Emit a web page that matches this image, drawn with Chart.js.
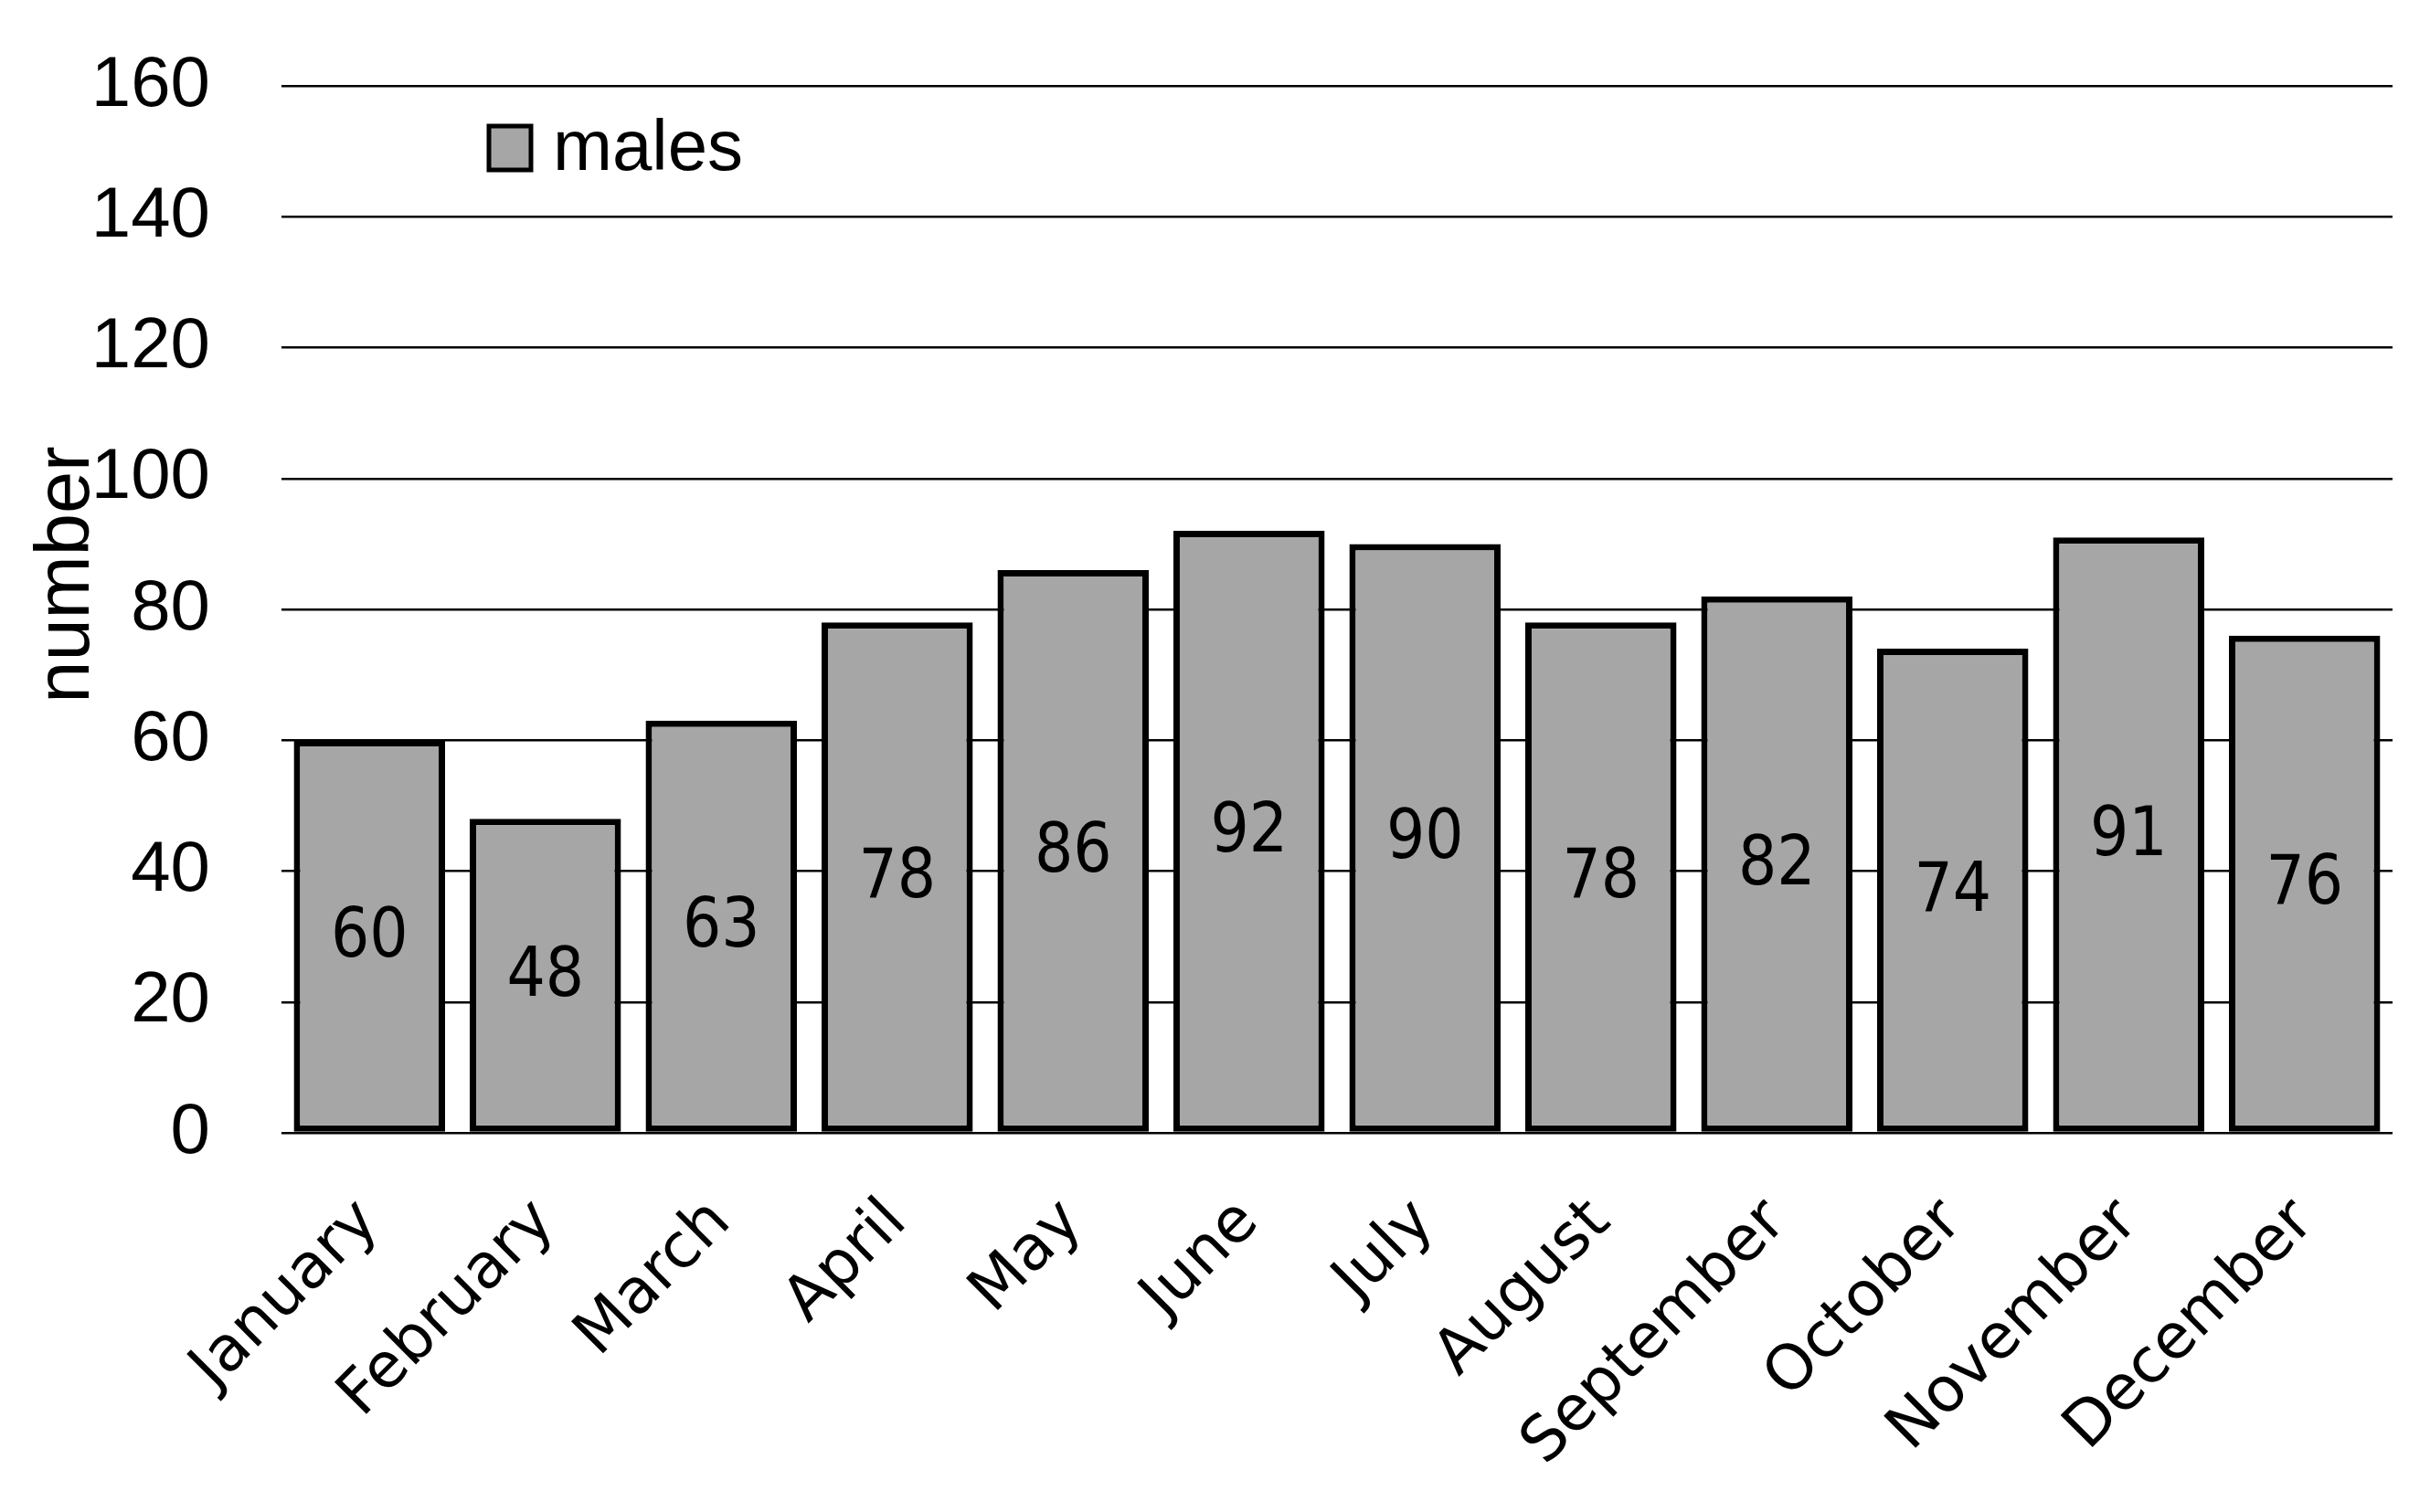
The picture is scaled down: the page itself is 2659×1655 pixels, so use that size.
<!DOCTYPE html>
<html>
<head>
<meta charset="utf-8">
<script src="https://cdn.jsdelivr.net/npm/chart.js@4/dist/chart.umd.min.js"></script>
<style>
  html, body { margin: 0; padding: 0; background: #ffffff; }
  #wrap { width: 2659px; height: 1655px; }
</style>
</head>
<body>
<div id="wrap"><canvas id="c" width="2659" height="1655"></canvas></div>
<script>
// ---- data ----
const months = ["January", "February", "March", "April", "May", "June", "July", "August", "September", "October", "November", "December"];
const males = [60, 48, 63, 78, 86, 92, 90, 78, 82, 74, 91, 76];
const seriesName = "males";
const yMin = 0, yMax = 160, yStep = 20;
const yTitle = "number";

const barFill = "#A6A6A6";

// value labels centred inside bars
const valueLabels = {
  id: 'valueLabels',
  afterDatasetsDraw(chart) {
    const ctx = chart.ctx;
    const meta = chart.getDatasetMeta(0);
    ctx.save();
    ctx.fillStyle = '#000';
    ctx.font = '74px "DejaVu Sans Condensed", "DejaVu Sans"';
    ctx.textAlign = 'center';
    ctx.textBaseline = 'middle';
    meta.data.forEach((bar, i) => {
      const v = chart.data.datasets[0].data[i];
      ctx.fillText(String(v), bar.x, (bar.y + bar.base) / 2 + 3);
    });
    ctx.restore();
  }
};

// legend drawn inside plot area + y-axis title
const insideLegend = {
  id: 'insideLegend',
  afterDraw(chart) {
    const ctx = chart.ctx;
    const a = chart.chartArea;
    const ds = chart.data.datasets[0];
    const bx = a.left + 227, by = a.top + 44, bw = 46, bh = 48;
    ctx.save();
    ctx.fillStyle = ds.backgroundColor;
    ctx.fillRect(bx, by, bw, bh);
    ctx.lineWidth = 5;
    ctx.strokeStyle = '#000';
    ctx.strokeRect(bx, by, bw, bh);
    ctx.fillStyle = '#000';
    ctx.font = '78px "Liberation Sans"';
    ctx.textAlign = 'left';
    ctx.textBaseline = 'middle';
    ctx.fillText(ds.label, a.left + 297, by + bh / 2 + 2);
    // y-axis title
    const ys = chart.scales.y;
    ctx.translate(74, (a.top + a.bottom) / 2 - 38);
    ctx.rotate(-Math.PI / 2);
    ctx.font = '83px "Liberation Sans"';
    ctx.textAlign = 'center';
    ctx.textBaseline = 'middle';
    ctx.fillText(ys.options.title.text, 0, 0);
    ctx.restore();
  }
};

new Chart(document.getElementById('c'), {
  type: 'bar',
  data: {
    labels: months,
    datasets: [{
      label: seriesName,
      data: males,
      backgroundColor: barFill,
      borderColor: '#000000',
      borderWidth: 7,
      borderSkipped: false,
      categoryPercentage: 1.0,
      barPercentage: 0.86
    }]
  },
  options: {
    responsive: false,
    devicePixelRatio: 1,
    animation: false,
    layout: { padding: { left: 24, right: 41, top: 94, bottom: 0 } },
    plugins: {
      legend: { display: false },
      tooltip: { enabled: false },
      title: { display: false }
    },
    scales: {
      x: {
        type: 'category',
        grid: { display: false, drawTicks: false },
        border: { display: false },
        ticks: {
          color: '#000',
          font: { family: '"DejaVu Sans"', size: 68 },
          minRotation: 45,
          maxRotation: 45,
          autoSkip: false,
          padding: 58
        },
        afterFit(scale) { scale.height = 415; }
      },
      y: {
        min: yMin,
        max: yMax,
        grid: { color: '#000', lineWidth: 2.5, drawTicks: true, tickLength: 76, tickColor: 'rgba(0,0,0,0)' },
        border: { display: false },
        ticks: {
          stepSize: yStep,
          color: '#000',
          font: { family: '"Liberation Sans"', size: 78 },
          padding: 2
        },
        title: {
          display: false,
          text: yTitle
        },
        afterFit(scale) { scale.width = 284; }
      }
    }
  },
  plugins: [valueLabels, insideLegend]
});
</script>
</body>
</html>
